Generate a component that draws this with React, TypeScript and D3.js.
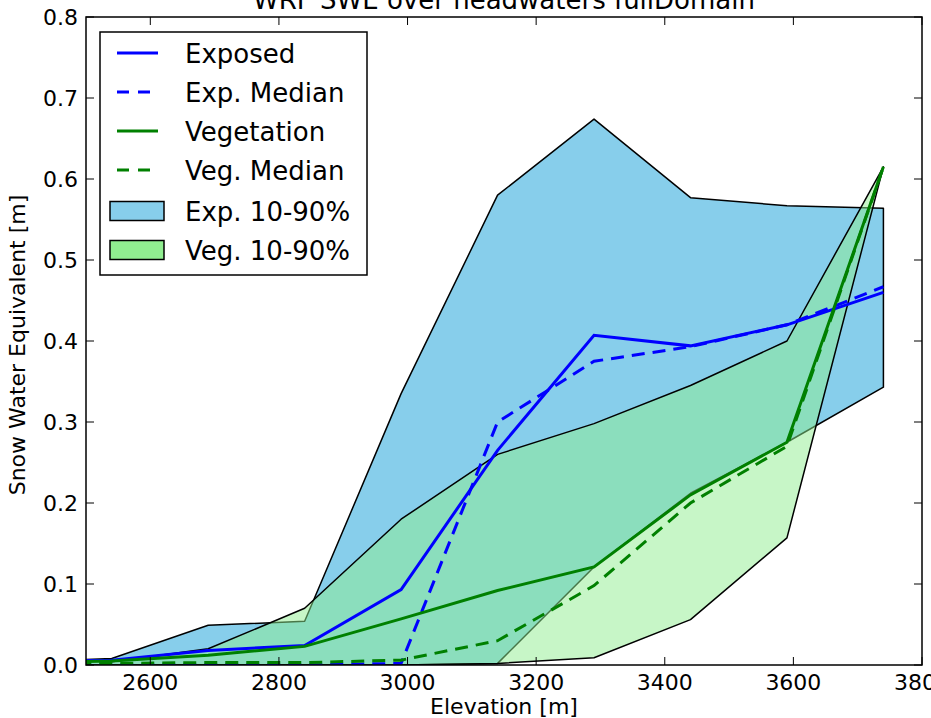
import React, { useRef, useEffect } from "react";
import * as d3 from "d3";

// elevation bins [m]
const elevation = [2390, 2540, 2690, 2840, 2990, 3140, 3290, 3440, 3590, 3740];

// exposed (open) cells
const exposedMean = [0.004, 0.006, 0.018, 0.024, 0.093, 0.265, 0.407, 0.394, 0.42, 0.46];
const exposedMedian = [0.0, 0.0, 0.0, 0.0, 0.002, 0.3, 0.375, 0.393, 0.42, 0.467];
const exposedP10 = [0.0, 0.0, 0.0, 0.0, 0.0, 0.002, 0.121, 0.212, 0.275, 0.343];
const exposedP90 = [0.003, 0.008, 0.049, 0.054, 0.335, 0.58, 0.674, 0.577, 0.567, 0.564];

// vegetated cells
const vegMean = [0.003, 0.005, 0.012, 0.023, 0.057, 0.092, 0.121, 0.21, 0.275, 0.615];
const vegMedian = [0.001, 0.002, 0.003, 0.003, 0.006, 0.03, 0.098, 0.2, 0.27, 0.615];
const vegP10 = [0.0, 0.0, 0.0, 0.0, 0.0, 0.002, 0.009, 0.056, 0.157, 0.615];
const vegP90 = [0.009, 0.004, 0.02, 0.07, 0.18, 0.26, 0.298, 0.345, 0.4, 0.615];

const xTicks = [2600, 2800, 3000, 3200, 3400, 3600, 3800];
const yTicks = [0.0, 0.1, 0.2, 0.3, 0.4, 0.5, 0.6, 0.7, 0.8];

const legendItems = [
  { label: "Exposed", kind: "line", color: "blue", dash: null },
  { label: "Exp. Median", kind: "line", color: "blue", dash: "12,9" },
  { label: "Vegetation", kind: "line", color: "green", dash: null },
  { label: "Veg. Median", kind: "line", color: "green", dash: "12,9" },
  { label: "Exp. 10-90%", kind: "patch", color: "skyblue", dash: null },
  { label: "Veg. 10-90%", kind: "patch", color: "lightgreen", dash: null },
];

const FONT = "'DejaVu Sans', sans-serif";

function App() {
  const svgRef = useRef<SVGSVGElement>(null);

  useEffect(() => {
    const svg = d3.select(svgRef.current);
    svg.selectAll("*").remove();

    const width = 931;
    const height = 718;
    const margin = { top: 17, right: 9, bottom: 53, left: 86 };
    const innerWidth = width - margin.left - margin.right;
    const innerHeight = height - margin.top - margin.bottom;

    const xScale = d3.scaleLinear().domain([2500, 3800]).range([0, innerWidth]);
    const yScale = d3.scaleLinear().domain([0, 0.8]).range([innerHeight, 0]);

    const g = svg
      .append("g")
      .attr("transform", `translate(${margin.left}, ${margin.top})`);

    g.append("clipPath")
      .attr("id", "plot-clip")
      .append("rect")
      .attr("width", innerWidth)
      .attr("height", innerHeight);

    const plot = g.append("g").attr("clip-path", "url(#plot-clip)");

    const idx = d3.range(elevation.length);

    // bands
    const band = (lo: number[], hi: number[]) =>
      d3
        .area<number>()
        .x((i) => xScale(elevation[i]))
        .y0((i) => yScale(lo[i]))
        .y1((i) => yScale(hi[i]))(idx);

    plot
      .append("path")
      .attr("d", band(exposedP10, exposedP90) + "Z")
      .attr("fill", "skyblue")
      .attr("stroke", "black")
      .attr("stroke-width", 1.5)
      .attr("stroke-linejoin", "round");

    plot
      .append("path")
      .attr("d", band(vegP10, vegP90) + "Z")
      .attr("fill", "lightgreen")
      .attr("fill-opacity", 0.5)
      .attr("stroke", "black")
      .attr("stroke-width", 1.5)
      .attr("stroke-linejoin", "round");

    // lines
    const line = (vals: number[]) =>
      d3
        .line<number>()
        .x((i) => xScale(elevation[i]))
        .y((i) => yScale(vals[i]))(idx);

    const series = [
      { vals: exposedMean, color: "blue", dash: null },
      { vals: exposedMedian, color: "blue", dash: "13,8" },
      { vals: vegMean, color: "green", dash: null },
      { vals: vegMedian, color: "green", dash: "13,8" },
    ];
    series.forEach((s) => {
      plot
        .append("path")
        .attr("d", line(s.vals))
        .attr("fill", "none")
        .attr("stroke", s.color)
        .attr("stroke-width", 3)
        .attr("stroke-dasharray", s.dash);
    });

    // frame
    g.append("rect")
      .attr("width", innerWidth)
      .attr("height", innerHeight)
      .attr("fill", "none")
      .attr("stroke", "black")
      .attr("stroke-width", 1.5);

    // inward ticks on all four sides
    const tickLen = 8;
    xTicks.forEach((t) => {
      const x = xScale(t);
      g.append("line")
        .attr("x1", x).attr("x2", x)
        .attr("y1", innerHeight).attr("y2", innerHeight - tickLen)
        .attr("stroke", "black");
      g.append("line")
        .attr("x1", x).attr("x2", x)
        .attr("y1", 0).attr("y2", tickLen)
        .attr("stroke", "black");
      g.append("text")
        .attr("x", x)
        .attr("y", innerHeight + 25)
        .attr("text-anchor", "middle")
        .style("font-family", FONT)
        .style("font-size", "22px")
        .text(String(t));
    });
    yTicks.forEach((t) => {
      const y = yScale(t);
      g.append("line")
        .attr("x1", 0).attr("x2", tickLen)
        .attr("y1", y).attr("y2", y)
        .attr("stroke", "black");
      g.append("line")
        .attr("x1", innerWidth).attr("x2", innerWidth - tickLen)
        .attr("y1", y).attr("y2", y)
        .attr("stroke", "black");
      g.append("text")
        .attr("x", -8)
        .attr("y", y + 8)
        .attr("text-anchor", "end")
        .style("font-family", FONT)
        .style("font-size", "22px")
        .text(t.toFixed(1));
    });

    // titles
    svg.append("text")
      .attr("x", margin.left + innerWidth / 2)
      .attr("y", 9)
      .attr("text-anchor", "middle")
      .style("font-family", FONT)
      .style("font-size", "26px")
      .text("WRF SWE over headwaters fullDomain");

    svg.append("text")
      .attr("x", margin.left + innerWidth / 2)
      .attr("y", 714)
      .attr("text-anchor", "middle")
      .style("font-family", FONT)
      .style("font-size", "22px")
      .text("Elevation [m]");

    svg.append("text")
      .attr("transform", `translate(25, ${margin.top + innerHeight / 2 + 4}) rotate(-90)`)
      .attr("text-anchor", "middle")
      .style("font-family", FONT)
      .style("font-size", "22px")
      .text("Snow Water Equivalent [m]");

    // legend
    const legend = svg.append("g").attr("transform", "translate(100, 32)");
    legend.append("rect")
      .attr("width", 267)
      .attr("height", 243)
      .attr("fill", "white")
      .attr("stroke", "black")
      .attr("stroke-width", 1.5);

    legendItems.forEach((d, i) => {
      const cy = 21 + i * 39 + (d.kind === "patch" ? 2 : 0);
      if (d.kind === "line") {
        legend.append("line")
          .attr("x1", 17).attr("x2", 58)
          .attr("y1", cy).attr("y2", cy)
          .attr("stroke", d.color)
          .attr("stroke-width", 3)
          .attr("stroke-dasharray", d.dash);
      } else {
        legend.append("rect")
          .attr("x", 10).attr("y", cy - 9.5)
          .attr("width", 54).attr("height", 19)
          .attr("fill", d.color)
          .attr("stroke", "black")
          .attr("stroke-width", 1.5);
      }
      legend.append("text")
        .attr("x", 85)
        .attr("y", cy + 9.5)
        .style("font-family", FONT)
        .style("font-size", "26px")
        .text(d.label);
    });
  }, []);

  return (
    <svg
      ref={svgRef}
      width={931}
      height={718}
      style={{ position: "absolute", left: 0, top: 0, background: "white" }}
    ></svg>
  );
}

export default App;
